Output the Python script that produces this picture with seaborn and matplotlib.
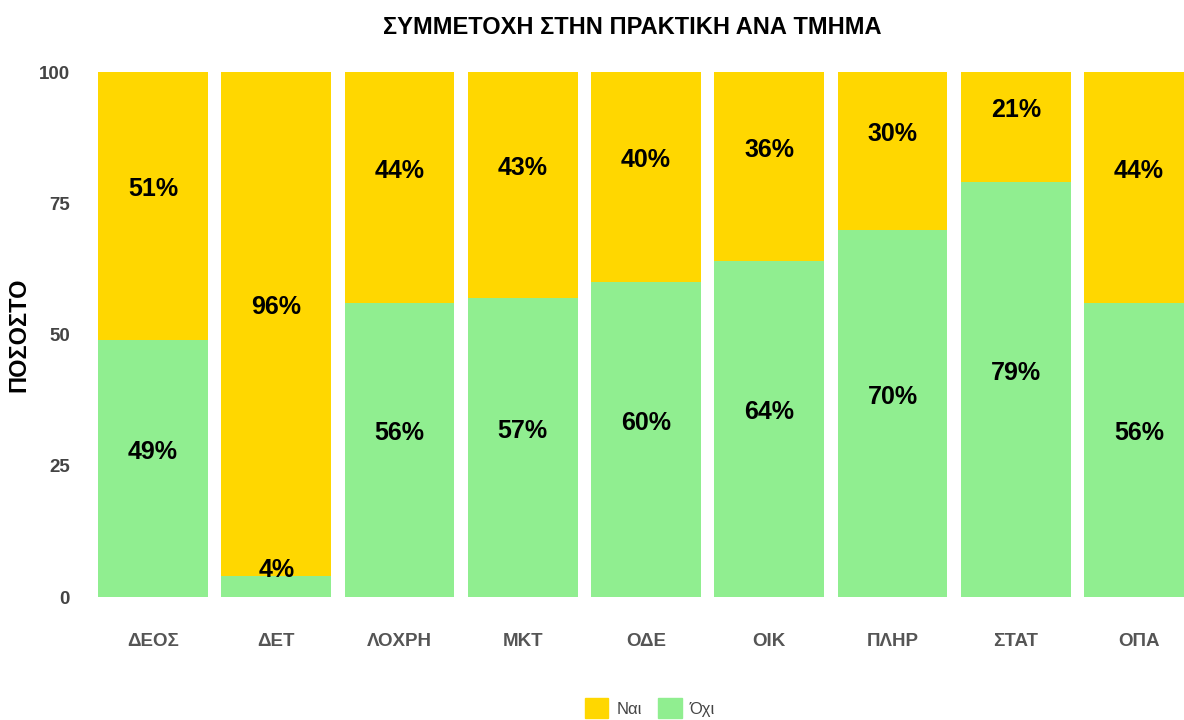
import seaborn as sns
import pandas as pd
import matplotlib.pyplot as plt
from matplotlib.patches import Patch

departments = ["ΔΕΟΣ", "ΔΕΤ", "ΛΟΧΡΗ", "ΜΚΤ", "ΟΔΕ", "ΟΙΚ", "ΠΛΗΡ", "ΣΤΑΤ", "ΟΠΑ"]
yes_pct = [51, 96, 44, 43, 40, 36, 30, 21, 44]
no_pct = [49, 4, 56, 57, 60, 64, 70, 79, 56]
yticks = [0, 25, 50, 75, 100]

YELLOW = "#FFD700"
GREEN = "#90EE90"

df = pd.DataFrame({"dept": departments, "yes": yes_pct, "no": no_pct})
df["total"] = df["yes"] + df["no"]

sns.set_style("white")
plt.rcParams["font.family"] = ["Liberation Sans", "DejaVu Sans"]

fig = plt.figure(figsize=(11.84, 7.2), dpi=100)
ax = fig.add_axes([92 / 1184, 123 / 720, 1092 / 1184, 525 / 720])

# yellow full bar behind, green bottom part on top
sns.barplot(data=df, x="dept", y="total", color=YELLOW, width=0.89, saturation=1,
            linewidth=0, ax=ax)
sns.barplot(data=df, x="dept", y="no", color=GREEN, width=0.89, saturation=1,
            linewidth=0, ax=ax)

for i, (y, n) in enumerate(zip(yes_pct, no_pct)):
    ax.annotate(f"{n}%", (i, n / 2), xytext=(0, 12), textcoords="offset points",
                ha="center", va="center", fontsize=18, fontweight="bold", color="black")
    ax.annotate(f"{y}%", (i, n + y / 2), xytext=(0, 12), textcoords="offset points",
                ha="center", va="center", fontsize=18, fontweight="bold", color="black")

ax.set_xlim(-0.495, 8.365)
ax.set_ylim(0, 100)
ax.set_yticks(yticks)
ax.tick_params(axis="y", length=0, pad=16, labelsize=13.5, labelcolor="#444444")
ax.tick_params(axis="x", length=0, pad=26, labelsize=13.5, labelcolor="#555555")
for lab in ax.get_xticklabels() + ax.get_yticklabels():
    lab.set_fontweight("bold")
sns.despine(ax=ax, left=True, bottom=True)

ax.set_xlabel("")
ax.set_ylabel("ΠΟΣΟΣΤΟ", fontsize=17, fontweight="bold", color="black")
ax.yaxis.set_label_coords(-62 / 1092, 0.5)

fig.text(632 / 1184, 1 - 27 / 720, "ΣΥΜΜΕΤΟΧΗ ΣΤΗΝ ΠΡΑΚΤΙΚΗ ΑΝΑ ΤΜΗΜΑ",
         ha="center", va="center", fontsize=17, fontweight="bold", color="black")

handles = [Patch(color=YELLOW, label="Ναι"), Patch(color=GREEN, label="Όχι")]
fig.legend(handles=handles, loc="center", bbox_to_anchor=(650 / 1184, 1 - 708 / 720), ncol=2,
           frameon=False, fontsize=12, handlelength=1.4, handleheight=1.4,
           handletextpad=0.5, columnspacing=1.0, labelcolor="#444444")

fig.savefig("out.png", dpi=100)
